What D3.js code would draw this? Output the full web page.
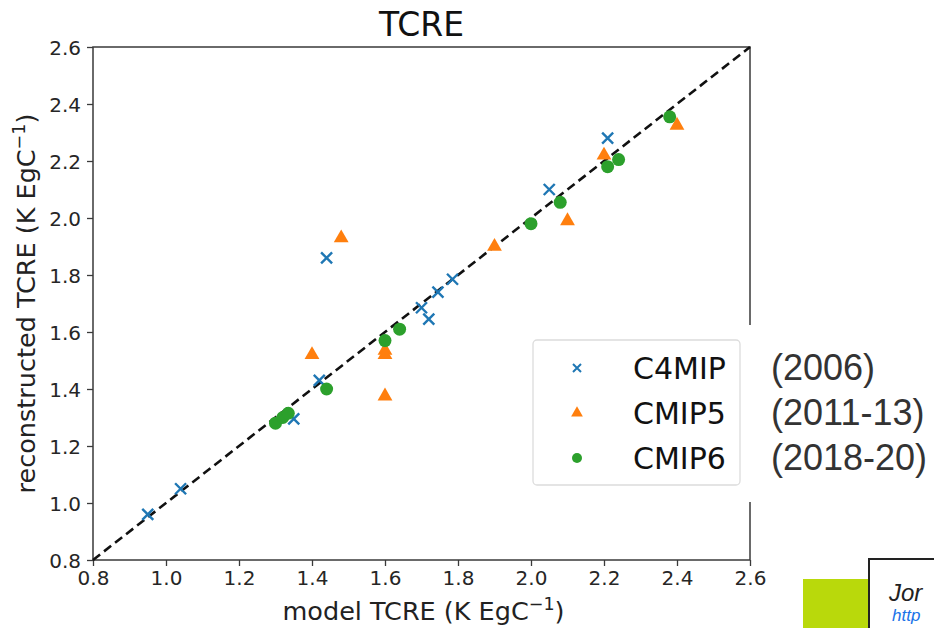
<!DOCTYPE html>
<html>
<head>
<meta charset="utf-8">
<script src="https://cdn.jsdelivr.net/npm/d3@7/dist/d3.min.js"></script>
<style>
  html, body { margin: 0; padding: 0; background: #fff; }
  svg { display: block; }
</style>
</head>
<body>
<svg id="chart" width="934" height="628"></svg>
<script>
// ---- data ----
const c4mipX = [0.95, 1.04, 1.44, 1.42, 1.35, 1.70, 1.72, 1.745, 1.785, 2.05, 2.21];
const c4mipY = [0.96, 1.05, 1.86, 1.43, 1.295, 1.685, 1.645, 1.74, 1.785, 2.10, 2.28];

const cmip5X = [1.48, 1.40, 1.60, 1.60, 1.60, 1.90, 2.10, 2.20, 2.40];
const cmip5Y = [1.93, 1.52, 1.535, 1.52, 1.375, 1.90, 1.99, 2.22, 2.325];

const cmip6X = [1.30, 1.32, 1.335, 1.44, 1.60, 1.64, 2.00, 2.08, 2.21, 2.24, 2.38];
const cmip6Y = [1.28, 1.30, 1.315, 1.40, 1.57, 1.61, 1.98, 2.055, 2.18, 2.205, 2.355];

const tickValues = [0.8, 1.0, 1.2, 1.4, 1.6, 1.8, 2.0, 2.2, 2.4, 2.6];
const seriesNames = ["C4MIP", "CMIP5", "CMIP6"];
const seriesYears = ["(2006)", "(2011-13)", "(2018-20)"];
const seriesColors = ["#1f77b4", "#ff7f0e", "#2ca02c"];

// ---- layout ----
const svg = d3.select("#chart");
const W = 934, H = 628;
const L = 93, R = 750, T = 47, B = 560;

svg.append("rect").attr("width", W).attr("height", H).attr("fill", "#fff");

const x = d3.scaleLinear().domain([0.8, 2.6]).range([L, R]);
const y = d3.scaleLinear().domain([0.8, 2.6]).range([B, T]);

const axisColor = "#3a3a3a";
const tickFont = "DejaVu Sans, sans-serif";

// axes
const xAxis = svg.append("g").attr("transform", `translate(0,${B})`)
  .call(d3.axisBottom(x).tickValues(tickValues).tickFormat(d3.format(".1f")).tickSizeOuter(0).tickSize(6));
const yAxis = svg.append("g").attr("transform", `translate(${L},0)`)
  .call(d3.axisLeft(y).tickValues(tickValues).tickFormat(d3.format(".1f")).tickSizeOuter(0).tickSize(6));
[xAxis, yAxis].forEach(g => {
  g.select(".domain").remove();
  g.selectAll(".tick line").attr("stroke", axisColor).attr("stroke-width", 1.3);
  g.selectAll(".tick text").attr("fill", "#262626").attr("font-family", tickFont).attr("font-size", 20);
});
xAxis.selectAll(".tick text").attr("dy", "0.95em").attr("y", 6);
yAxis.selectAll(".tick text").attr("x", -12).attr("dy", "0.35em");

// frame
svg.append("rect").attr("x", L).attr("y", T).attr("width", R - L).attr("height", B - T)
  .attr("fill", "none").attr("stroke", axisColor).attr("stroke-width", 1.5);

// identity line
svg.append("line")
  .attr("x1", x(0.8)).attr("y1", y(0.8)).attr("x2", x(2.6)).attr("y2", y(2.6))
  .attr("stroke", "#111").attr("stroke-width", 2.6).attr("stroke-dasharray", "9,5");

// markers
function crossPath(s) {
  return `M${-s},${-s}L${s},${s}M${-s},${s}L${s},${-s}`;
}
const triSym = d3.symbol().type(d3.symbolTriangle);
const plot = svg.append("g");

plot.selectAll("path.c4").data(d3.zip(c4mipX, c4mipY)).join("path")
  .attr("class", "c4")
  .attr("transform", d => `translate(${x(d[0])},${y(d[1])})`)
  .attr("d", crossPath(5.5))
  .attr("stroke", seriesColors[0]).attr("stroke-width", 2.4).attr("fill", "none");

plot.selectAll("path.c5").data(d3.zip(cmip5X, cmip5Y)).join("path")
  .attr("class", "c5")
  .attr("transform", d => `translate(${x(d[0])},${y(d[1])})`)
  .attr("d", triSym.size(95)())
  .attr("fill", seriesColors[1]);

plot.selectAll("circle.c6").data(d3.zip(cmip6X, cmip6Y)).join("circle")
  .attr("class", "c6")
  .attr("cx", d => x(d[0])).attr("cy", d => y(d[1])).attr("r", 6.5)
  .attr("fill", seriesColors[2]);

// title
svg.append("text").attr("x", (L + R) / 2).attr("y", 36).attr("text-anchor", "middle")
  .attr("font-family", tickFont).attr("font-size", 33).attr("fill", "#111").text("TCRE");

// x label
const xl = svg.append("text").attr("x", (L + R) / 2 + 2).attr("y", 620).attr("text-anchor", "middle")
  .attr("font-family", tickFont).attr("font-size", 25.5).attr("fill", "#222");
xl.append("tspan").text("model TCRE (K EgC");
xl.append("tspan").attr("dy", -10).attr("font-size", 17.5).text("\u22121");
xl.append("tspan").attr("dy", 10).text(")");

// y label
const yl = svg.append("text").attr("transform", `translate(35,${(T + B) / 2}) rotate(-90)`)
  .attr("text-anchor", "middle")
  .attr("font-family", tickFont).attr("font-size", 25.5).attr("fill", "#222");
yl.append("tspan").text("reconstructed TCRE (K EgC");
yl.append("tspan").attr("dy", -10).attr("font-size", 17.5).text("\u22121");
yl.append("tspan").attr("dy", 10).text(")");

// white patch over the right side (slide overlay)
svg.append("rect").attr("x", 742).attr("y", 325).attr("width", W - 742).attr("height", 177).attr("fill", "#fff");

// legend
const lg = svg.append("g");
lg.append("rect").attr("x", 533).attr("y", 340).attr("width", 207).attr("height", 145).attr("rx", 4)
  .attr("fill", "#fff").attr("stroke", "#dcdcdc").attr("stroke-width", 1.3);
const rowY = [368, 413, 458];
seriesNames.forEach((name, i) => {
  const cy = rowY[i];
  if (i === 0) {
    lg.append("path").attr("transform", `translate(577,${cy})`).attr("d", crossPath(4))
      .attr("stroke", seriesColors[0]).attr("stroke-width", 2).attr("fill", "none");
  } else if (i === 1) {
    lg.append("path").attr("transform", `translate(577,${cy})`).attr("d", triSym.size(60)())
      .attr("fill", seriesColors[1]);
  } else {
    lg.append("circle").attr("cx", 577).attr("cy", cy).attr("r", 5).attr("fill", seriesColors[2]);
  }
  lg.append("text").attr("x", 633).attr("y", cy + 11).attr("font-family", tickFont)
    .attr("font-size", 30).attr("fill", "#111").text(name);
  svg.append("text").attr("x", 771).attr("y", cy + 12).attr("font-family", "Liberation Sans, Arial, sans-serif")
    .attr("font-size", 36).attr("fill", "#333").text(seriesYears[i]);
});

// bottom-right slide elements
svg.append("rect").attr("x", 803).attr("y", 579).attr("width", W - 803).attr("height", H - 579).attr("fill", "#b9d90b");
svg.append("rect").attr("x", 869).attr("y", 559).attr("width", 100).attr("height", 100)
  .attr("fill", "#fff").attr("stroke", "#222").attr("stroke-width", 2);
svg.append("text").attr("x", 889).attr("y", 601).attr("font-family", "Liberation Sans, Arial, sans-serif")
  .attr("font-style", "italic").attr("font-size", 24).attr("fill", "#222").text("Jor");
svg.append("text").attr("x", 892).attr("y", 621).attr("font-family", "Liberation Sans, Arial, sans-serif")
  .attr("font-style", "italic").attr("font-size", 17).attr("fill", "#1a73e8").text("http");
</script>
</body>
</html>
